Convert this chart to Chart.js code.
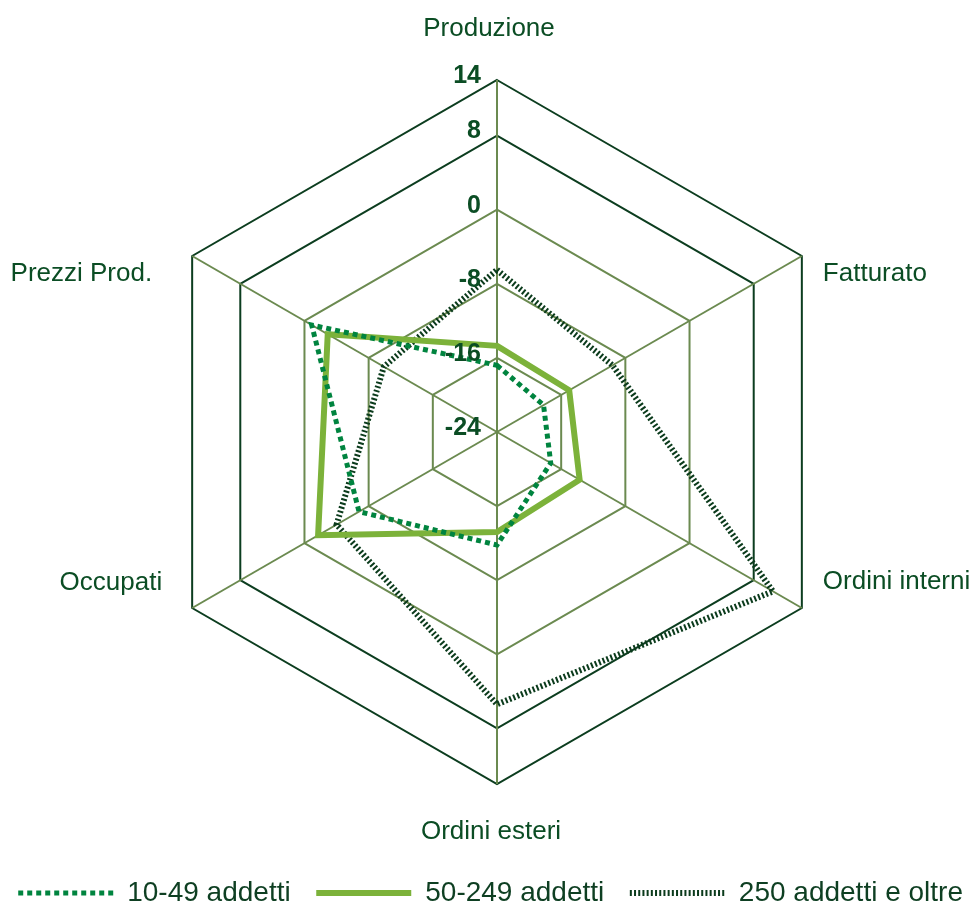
<!DOCTYPE html>
<html>
<head>
<meta charset="utf-8">
<script src="https://cdn.jsdelivr.net/npm/chart.js@4.4.0/dist/chart.umd.min.js"></script>
<style>
html,body{margin:0;padding:0;background:#ffffff;}
canvas{display:block;}
</style>
</head>
<body>
<canvas id="c" width="973" height="911"></canvas>
<script>
// ---- data ----
const categories = ['Produzione', 'Fatturato', 'Ordini interni', 'Ordini esteri', 'Occupati', 'Prezzi Prod.'];
const seriesNames = ['10-49 addetti', '50-249 addetti', '250 addetti e oltre'];
const small = [-16.8, -18.2, -17.3, -11.8, -6.8, -0.9];
const medium = [-14.7, -15.0, -13.7, -13.2, -1.7, -2.9];
const large = [-6.5, -9.6, 10.4, 5.4, -4.0, -9.9];
const tickValues = [-24, -16, -8, 0, 8, 14];

// ---- styling / layout ----
const FONT = "'Liberation Sans', Arial, sans-serif";
const OLIVE = '#6b8a50';
const DARK = '#0c3d1f';
const LABEL_COLOR = '#0b4d24';
const LEGEND_COLOR = '#0e3f22';
const CX = 497, CY = 432, R = 352;
const labelPlacement = [
  {align: 'center', dx: -8, dy: -44},
  {align: 'left', dx: 21, dy: 25},
  {align: 'left', dx: 21, dy: -19},
  {align: 'center', dx: -6, dy: 55},
  {align: 'right', dx: -30, dy: -18},
  {align: 'right', dx: -40, dy: 25}
];

const labelsPlugin = {
  id: 'radarText',
  afterDatasetsDraw(chart) {
    const s = chart.scales.r;
    const ctx = chart.ctx;
    ctx.save();
    // tick labels
    ctx.font = 'bold 25px ' + FONT;
    ctx.fillStyle = LABEL_COLOR;
    ctx.textAlign = 'right';
    ctx.textBaseline = 'middle';
    s.ticks.forEach(t => {
      const p = s.getPointPosition(0, s.getDistanceFromCenterForValue(t.value));
      ctx.fillText(String(t.value), p.x - 16, p.y - 4);
    });
    // category labels
    ctx.font = '26px ' + FONT;
    ctx.textBaseline = 'alphabetic';
    chart.data.labels.forEach((lab, i) => {
      const p = s.getPointPosition(i, s.getDistanceFromCenterForValue(s.max));
      const pl = labelPlacement[i];
      ctx.textAlign = pl.align;
      ctx.fillText(lab, p.x + pl.dx, p.y + pl.dy);
    });
    ctx.restore();
  }
};

new Chart(document.getElementById('c'), {
  type: 'radar',
  data: {
    labels: categories,
    datasets: [
      {label: seriesNames[0], data: small, borderColor: '#00843f', backgroundColor: 'transparent',
       borderWidth: 5, borderDash: [5, 4], pointRadius: 0, fill: false, borderJoinStyle: 'miter', clip: false},
      {label: seriesNames[1], data: medium, borderColor: '#7cb23a', backgroundColor: 'transparent',
       borderWidth: 6, borderDash: [], pointRadius: 0, fill: false, borderJoinStyle: 'miter', clip: false},
      {label: seriesNames[2], data: large, borderColor: '#0b3b1c', backgroundColor: 'transparent',
       borderWidth: 6, borderDash: [2, 2.2], pointRadius: 0, fill: false, borderJoinStyle: 'miter', clip: false}
    ]
  },
  options: {
    responsive: false,
    animation: false,
    layout: {padding: {top: 0, left: 0, right: 0, bottom: -6}},
    elements: {line: {tension: 0}},
    plugins: {
      tooltip: {enabled: false},
      legend: {
        position: 'bottom',
        align: 'end',
        labels: {
          usePointStyle: true,
          pointStyle: 'line',
          pointStyleWidth: 95,
          padding: 10,
          color: LEGEND_COLOR,
          font: {family: FONT, size: 28},
          generateLabels(chart) {
            const n = chart.data.datasets.length;
            return chart.data.datasets.map((ds, i) => ({
              text: i < n - 1 ? ds.label + '  ' : ds.label,
              fillStyle: ds.borderColor,
              strokeStyle: ds.borderColor,
              lineWidth: ds.borderWidth,
              lineDash: ds.borderDash,
              lineCap: 'butt',
              pointStyle: 'line',
              fontColor: LEGEND_COLOR,
              hidden: false,
              datasetIndex: i
            }));
          }
        }
      }
    },
    scales: {
      r: {
        min: tickValues[0],
        max: tickValues[tickValues.length - 1],
        afterBuildTicks(scale) {
          scale.ticks = tickValues.map(v => ({value: v}));
        },
        afterFit(scale) {
          scale.xCenter = CX;
          scale.yCenter = CY;
          scale.drawingArea = R;
        },
        ticks: {display: false},
        pointLabels: {display: false},
        grid: {
          circular: false,
          color: (ctx) => (ctx.index >= 4 ? DARK : OLIVE),
          lineWidth: 2
        },
        angleLines: {display: true, color: OLIVE, lineWidth: 2}
      }
    }
  },
  plugins: [labelsPlugin]
});
</script>
</body>
</html>
